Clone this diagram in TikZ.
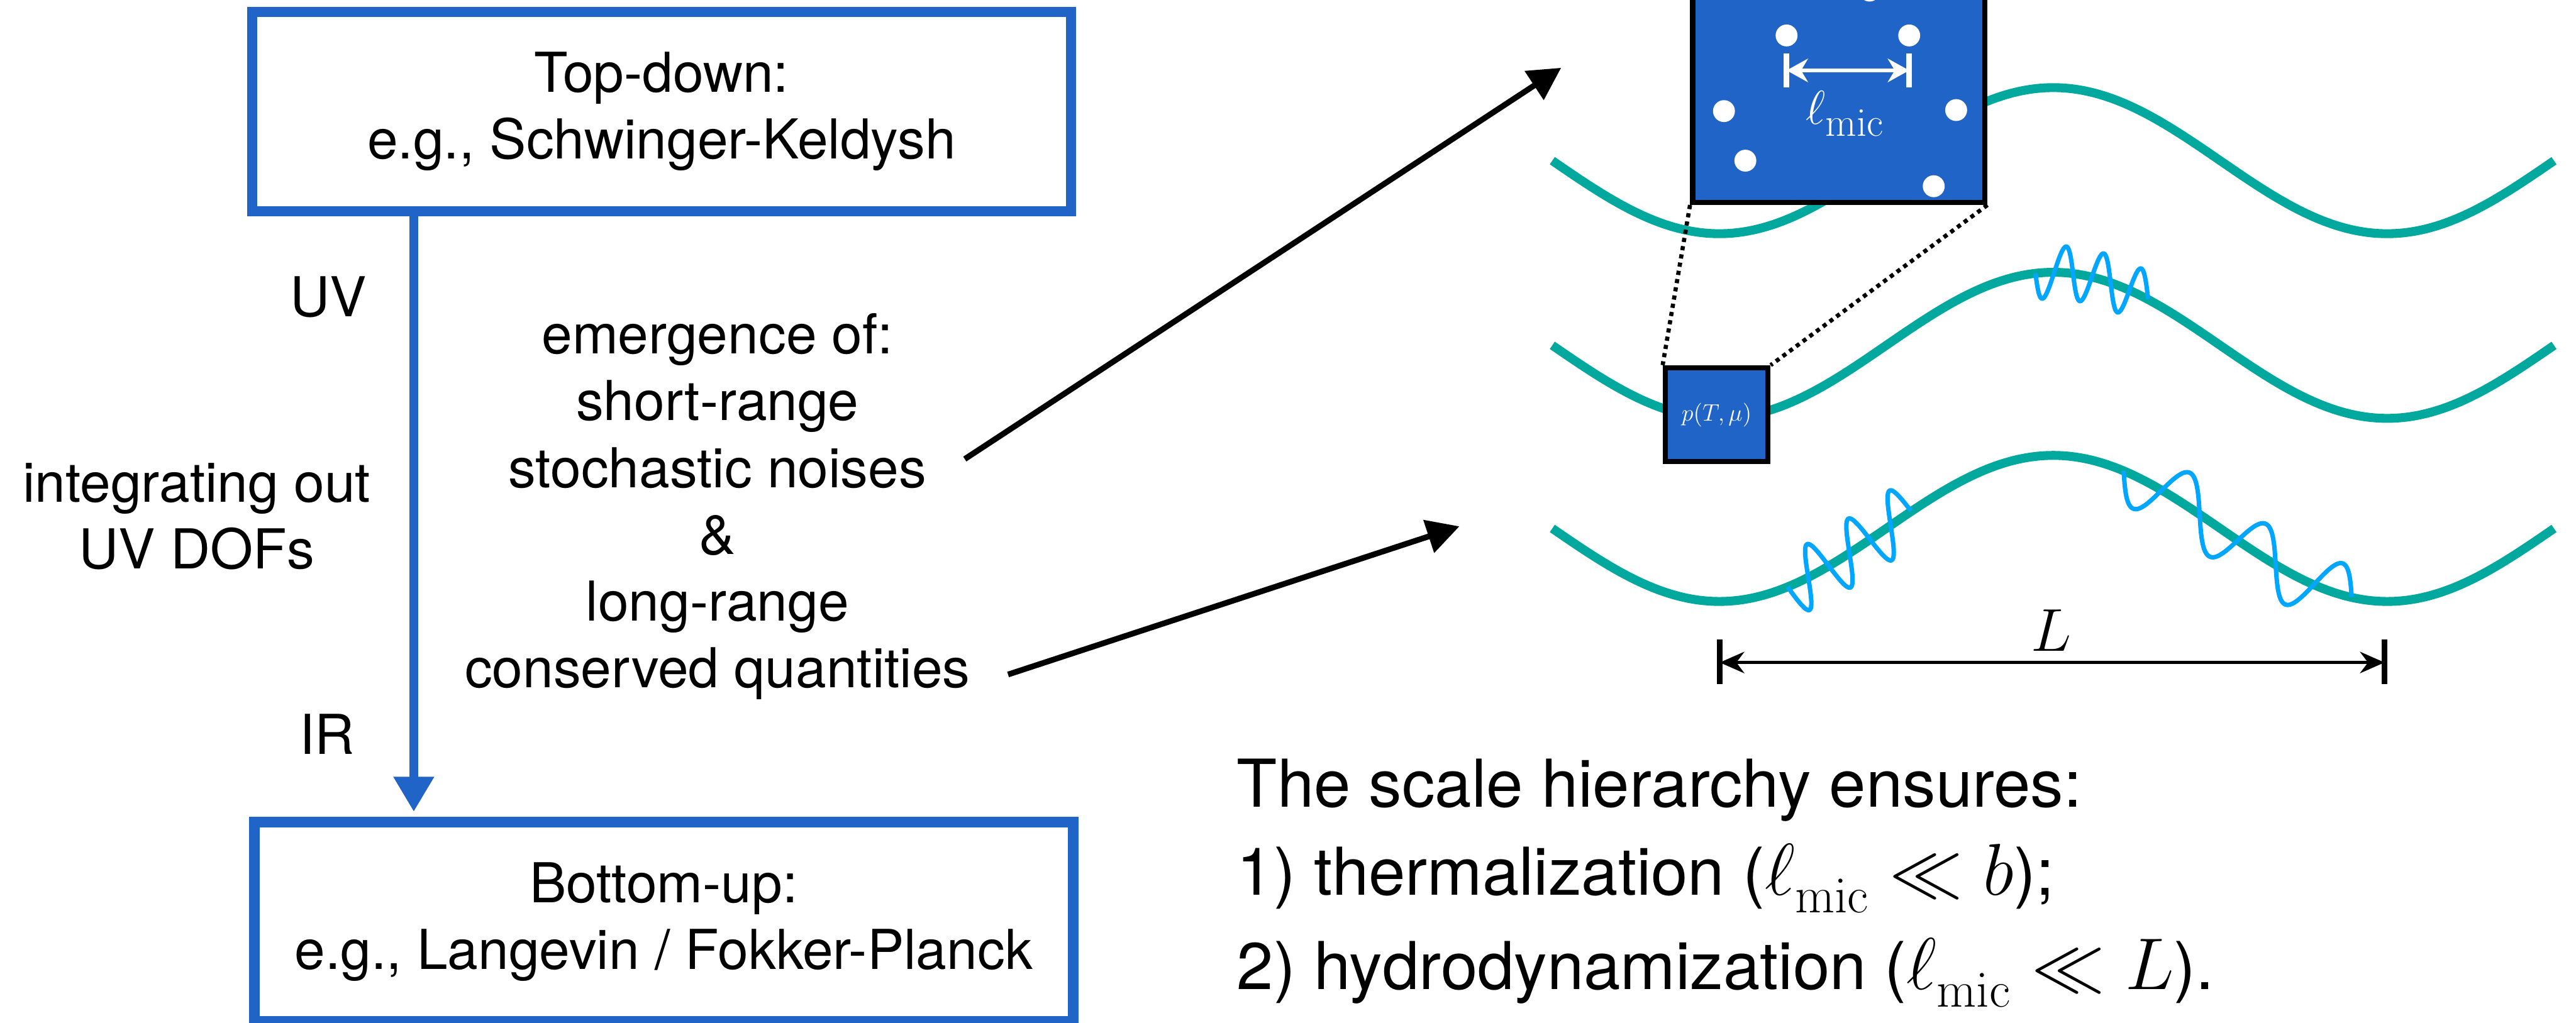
\documentclass[tikz,border=0pt]{standalone}
\usepackage{fix-cm}
\usepackage{amsmath}
\usepackage[no-math]{fontspec}
\setmainfont{TeX Gyre Heros}
\usetikzlibrary{arrows.meta}

% larger formulas next to the sans text
\DeclareMathSizes{36}{40}{28}{22}
\DeclareMathSizes{26}{26}{22}{18}
\newcommand{\lmic}{\ell_{\raisebox{-0.1em}{$\scriptstyle\mathrm{mic}$}}}

\definecolor{boxblue}{RGB}{33,100,200}
\definecolor{wavegreen}{RGB}{0,168,157}
\definecolor{noiseblue}{RGB}{0,166,255}

\tikzset{
  scheme/.style={draw=boxblue, line width=0.2cm, minimum width=15.69cm,
    minimum height=3.82cm, align=center, inner sep=0pt},
  flow/.style={draw=boxblue, line width=0.16cm,
    -{Triangle[length=0.67cm,width=0.74cm]}},
  emerge/.style={line width=0.11cm, -{Triangle[length=0.62cm,width=0.64cm]}},
  cell/.style={draw=black, fill=boxblue, line width=0.1cm, text=white, inner sep=0pt},
  wave/.style={wavegreen, line width=0.17cm},
  noise/.style={noiseblue, line width=0.085cm, line join=round},
  zoomline/.style={line width=0.08cm, dash pattern=on 0.08cm off 0.08cm},
  remark/.style={anchor=base west, inner sep=0pt, font=\fontsize{36}{40}\selectfont},
}

\begin{document}
\begin{tikzpicture}[font=\fontsize{30}{36.4}\selectfont]
    % Page size; the microscopic cell runs off the top edge
    \useasboundingbox (0,0) rectangle (49.37,19.60);
    \clip (0,0) rectangle (49.37,19.60);

    % Left column: the two descriptions and the flow from UV to IR
    \node[scheme] (topdown)  at (12.68,17.46) {Top-down:\\e.g., Schwinger-Keldysh};
    \node[scheme] (bottomup) at (12.72,1.93)  {Bottom-up:\\e.g., Langevin / Fokker-Planck};
    \coordinate (flowx) at (7.93,0);
    \draw[flow, shorten >=0.1cm] (topdown.south -| flowx) -- (bottomup.north -| flowx);

    \node (uv) at (6.29,13.90) {UV};
    \node (ir) at (6.27,5.53)  {IR};
    \node[align=center] (dofs) at (3.77,9.70) {integrating out\\UV DOFs};
    \node[align=center] (emergence) at (13.75,9.89)
        {emergence of:\\short-range\\stochastic noises\\\&\\long-range\\conserved quantities};

    % Arrows from the text to the sketch
    \coordinate (noisetail)  at (18.49,10.80);
    \coordinate (noisetip)   at (29.92,18.30);
    \coordinate (chargetail) at (19.32,6.67);
    \coordinate (chargetip)  at (27.97,9.51);
    \draw[emerge] (noisetail) -- (noisetip);
    \draw[emerge] (chargetail) -- (chargetip);

    % Long-wavelength modes: 1.5 periods of a sine, one per row
    \foreach \wy in {16.52,12.98,9.47}
        \draw[wave] plot[domain=29.75:48.95, samples=160, smooth]
            (\x,{\wy-1.4*sin(360*(\x-29.75)/12.8)});

    % Short-range noise riding on the modes (trochoid: shift \sh bends the wiggles)
    \foreach \wy/\ts/\te/\per/\sh/\amp in {12.98/39.01/41.17/0.72/-0.05/0.50,
                                             9.47/34.26/36.63/0.79/0.22/0.53,
                                             9.47/40.70/45.07/1.457/-0.19/0.55}
        \draw[noise] plot[domain=\ts:\te, samples=260, smooth, variable=\t]
            ({\t+\sh*sin(360*(\t-\ts)/\per)},
             {\wy-1.4*sin(360*(\t-29.75)/12.8)-\amp*sin(360*(\t-\ts)/\per)});

    % Fluid cell on the middle mode and its microscopic blow-up
    \node[cell, minimum width=1.97cm, minimum height=1.80cm,
          font=\fontsize{13}{15}\selectfont] (fluid) at (32.90,11.65) {$p(T,\mu)$};
    \node[cell, minimum width=5.60cm, minimum height=6cm, anchor=south] (micro) at (35.24,15.67) {};
    \draw[zoomline] (micro.south west) -- (fluid.north west);
    \draw[zoomline] (micro.south east) -- (fluid.north east);

    % particles inside the cell
    \foreach \pos in {(34.24,18.92),(36.59,18.92),(33.04,17.47),(33.45,16.52),
                      (37.49,17.49),(37.06,16.03),(35.83,19.78)}
        \fill[white] \pos circle (0.21);

    % microscopic length
    \coordinate (lmicL) at (34.24,18.25);
    \coordinate (lmicR) at (36.59,18.25);
    \draw[white, line width=0.11cm] ([yshift=0.33cm]lmicL) -- ([yshift=-0.32cm]lmicL);
    \draw[white, line width=0.11cm] ([yshift=0.33cm]lmicR) -- ([yshift=-0.32cm]lmicR);
    \draw[white, line width=0.07cm, >={Stealth[length=0.41cm,width=0.45cm]}, <->] (lmicL) -- (lmicR);
    \node[white, font=\fontsize{26}{30}\selectfont] (lmic) at (35.36,17.42) {$\lmic$};

    % wavelength of the modes
    \coordinate (Lleft)  at (32.96,6.90);
    \coordinate (Lright) at (45.70,6.90);
    \draw[line width=0.1cm] ([yshift=0.44cm]Lleft) -- ([yshift=-0.41cm]Lleft);
    \draw[line width=0.1cm] ([yshift=0.44cm]Lright) -- ([yshift=-0.41cm]Lright);
    \draw[line width=0.065cm, >={Stealth[length=0.47cm,width=0.41cm]}, <->] (Lleft) -- (Lright);
    \node[font=\fontsize{33}{36}\selectfont] (Llabel) at (39.31,7.51) {$L$};

    % Conclusion, one line per node
    \node[remark] (hierarchy) at (23.70,4.13) {The scale hierarchy ensures:};
    \node[remark] (thermal)   at (23.70,2.44) {1) thermalization ($\lmic \ll b$);};
    \node[remark] (hydro)     at (23.70,0.64) {2) hydrodynamization ($\lmic \ll L$).};
\end{tikzpicture}
\end{document}
